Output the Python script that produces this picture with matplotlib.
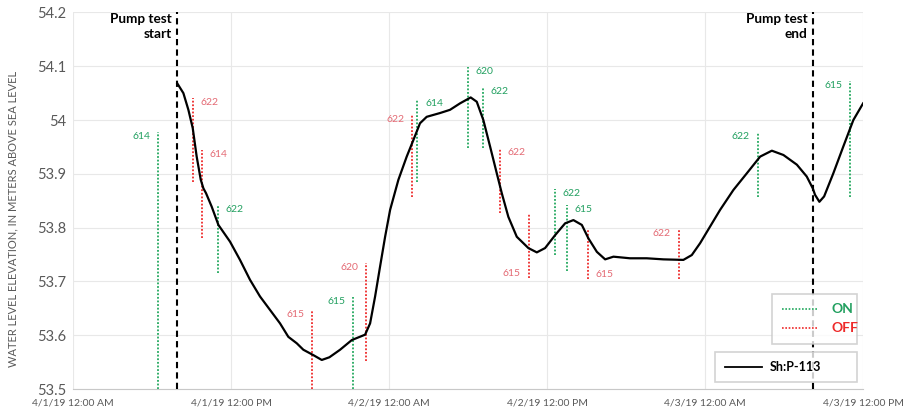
import matplotlib.pyplot as plt
from matplotlib.lines import Line2D

# hours since 4/1/19 12:00 AM
hours = [7.92, 8.38, 8.76, 9.09, 9.39, 9.70, 9.90, 10.10, 10.53, 11.04, 11.92,
         12.68, 13.44, 14.20, 14.96, 15.72, 16.35, 16.99, 17.49, 18.25, 18.89,
         19.47, 20.28, 21.17, 22.18, 22.56, 22.94, 23.32, 23.70, 24.08, 24.71,
         25.34, 25.85, 26.35, 26.86, 27.87, 28.63, 29.39, 30.20, 30.66, 31.16,
         31.67, 32.18, 32.56, 33.06, 33.70, 34.58, 35.22, 35.85, 36.61, 37.37,
         38.00, 38.64, 39.14, 39.78, 40.41, 41.04, 42.30, 43.57, 44.83, 46.35,
         46.99, 47.62, 48.38, 49.14, 50.15, 51.17, 52.18, 53.07, 53.95, 54.97,
         55.72, 56.18, 56.35, 56.68, 57.04, 57.74, 58.50, 59.26, 60.0]
elev = [54.068, 54.050, 54.019, 53.985, 53.932, 53.889, 53.873, 53.864, 53.839,
        53.805, 53.774, 53.740, 53.703, 53.672, 53.647, 53.622, 53.597, 53.585,
        53.573, 53.563, 53.554, 53.559, 53.573, 53.591, 53.601, 53.622, 53.672,
        53.728, 53.783, 53.833, 53.889, 53.932, 53.963, 53.994, 54.006, 54.013,
        54.019, 54.031, 54.042, 54.034, 54.000, 53.951, 53.901, 53.864, 53.820,
        53.783, 53.762, 53.754, 53.762, 53.786, 53.808, 53.814, 53.805, 53.780,
        53.755, 53.741, 53.746, 53.743, 53.743, 53.741, 53.740, 53.749, 53.771,
        53.802, 53.833, 53.870, 53.901, 53.932, 53.943, 53.935, 53.917, 53.895,
        53.873, 53.861, 53.848, 53.858, 53.901, 53.951, 54.000, 54.031]

pump_start = 7.9
pump_end = 56.2

# well switching events: time, top, bottom, well, state, label side
ev_time = [6.46, 9.11, 9.80, 11.01, 18.15, 21.27, 22.25, 25.74, 26.13, 30.0,
           31.14, 32.43, 36.6, 37.5, 34.6, 39.1, 46.0, 52.0, 59.0]
ev_top = [53.978, 54.041, 53.944, 53.842, 53.647, 53.671, 53.734, 54.009, 54.039,
          54.099, 54.062, 53.948, 53.872, 53.842, 53.827, 53.796, 53.798, 53.978,
          54.073]
ev_bot = [53.5, 53.885, 53.781, 53.716, 53.5, 53.5, 53.552, 53.857, 53.885,
          53.948, 53.948, 53.827, 53.749, 53.719, 53.707, 53.705, 53.705, 53.857,
          53.857]
ev_well = ["614", "622", "614", "622", "615", "615", "620", "622", "614", "620",
           "622", "622", "622", "615", "615", "615", "622", "622", "615"]
ev_state = ["on", "off", "off", "on", "off", "on", "off", "off", "on", "on",
            "on", "off", "on", "on", "off", "off", "off", "on", "on"]
ev_side = ["left", "right", "right", "right", "left", "left", "left", "left",
           "right", "right", "right", "right", "right", "right", "leftbot",
           "rightbot", "left", "left", "left"]

xticks = [0, 12, 24, 36, 48, 60]
xtick_labels = ["4/1/19 12:00 AM", "4/1/19 12:00 PM", "4/2/19 12:00 AM",
                "4/2/19 12:00 PM", "4/3/19 12:00 AM", "4/3/19 12:00 PM"]
yticks = [53.5, 53.6, 53.7, 53.8, 53.9, 54.0, 54.1, 54.2]
ytick_labels = ["53.5", "53.6", "53.7", "53.8", "53.9", "54", "54.1", "54.2"]

GREEN = "#22a85e"
RED = "#ee2a2a"
GREEN_TXT = "#22a060"
RED_TXT = "#e46a74"
GRAY = "#595959"

plt.rcParams['font.family'] = ['Lato', 'DejaVu Sans']

fig = plt.figure(figsize=(9.05, 4.12), dpi=100)
ax = fig.add_axes([0.0807, 0.0558, 0.873, 0.914])

ax.set_xlim(0, 60)
ax.set_ylim(53.5, 54.2)
ax.set_xticks(xticks)
ax.set_xticklabels(xtick_labels, fontsize=7.5)
ax.set_yticks(yticks)
ax.set_yticklabels(ytick_labels, fontsize=10.5)
ax.tick_params(length=0, colors=GRAY, pad=5)
ax.tick_params(axis="x", pad=6.5)
ax.grid(True, color="#e8e8e8", lw=0.8)
for s in ["top", "right", "left"]:
    ax.spines[s].set_visible(False)
ax.spines["bottom"].set_color("#c8c8c8")
ax.set_ylabel("WATER LEVEL ELEVATION, IN METERS ABOVE SEA LEVEL",
              fontsize=8.0, color=GRAY)
ax.yaxis.set_label_coords(-0.0696, 0.452)

# event lines
for t, top, bot, w, st, side in zip(ev_time, ev_top, ev_bot, ev_well, ev_state, ev_side):
    c = GREEN if st == "on" else RED
    tc = GREEN_TXT if st == "on" else RED_TXT
    ax.plot([t, t], [bot, top], ls=(0, (1, 1)), color=c, lw=1.3, zorder=2)
    if side == "left":
        ax.text(t - 0.6, top, w, ha="right", va="top", fontsize=7.5, color=tc)
    elif side == "right":
        ax.text(t + 0.6, top, w, ha="left", va="top", fontsize=7.5, color=tc)
    elif side == "leftbot":
        ax.text(t - 0.6, bot, w, ha="right", va="bottom", fontsize=7.5, color=tc)
    else:
        ax.text(t + 0.6, bot, w, ha="left", va="bottom", fontsize=7.5, color=tc)

# pump test markers
for t, lbl in [(pump_start, "Pump test\nstart"), (pump_end, "Pump test\nend")]:
    ax.axvline(t, color="black", ls=(0, (3, 2)), lw=1.5, zorder=3)
    ax.text(t - 0.4, 54.199, lbl, ha="right", va="top", fontsize=9.8,
            fontweight="bold", linespacing=1.3)

line, = ax.plot(hours, elev, color="black", lw=1.6, zorder=4)

# legends
on_h = Line2D([], [], color=GREEN, ls=(0, (1, 1)), lw=1.2)
off_h = Line2D([], [], color=RED, ls=(0, (1, 1)), lw=1.2)
leg1 = ax.legend([on_h, off_h], ["ON", "OFF"], loc="center",
                 bbox_to_anchor=(0.885, 0.117, 0.107, 0.138), mode="expand",
                 borderaxespad=0, frameon=True, fancybox=False,
                 edgecolor="#c8c8c8", handlelength=2.6, handletextpad=0.95,
                 borderpad=0.7, labelspacing=0.5,
                 prop={"weight": "bold", "size": 10})
leg1.get_frame().set_linewidth(1.2)
leg1.get_texts()[0].set_color(GREEN_TXT)
leg1.get_texts()[1].set_color(RED)
ax.add_artist(leg1)

leg2 = ax.legend([line], ["Sh:P-113"], loc="center",
                 bbox_to_anchor=(0.813, 0.013, 0.179, 0.091), mode="expand",
                 borderaxespad=0, frameon=True, fancybox=False,
                 edgecolor="#c8c8c8", handlelength=3.0, handletextpad=0.6,
                 borderpad=0.75, prop={"weight": "bold", "size": 9})
leg2.get_frame().set_linewidth(1.2)
leg2.get_lines()[0].set_linewidth(1.3)

fig.savefig("out.png", dpi=100)
